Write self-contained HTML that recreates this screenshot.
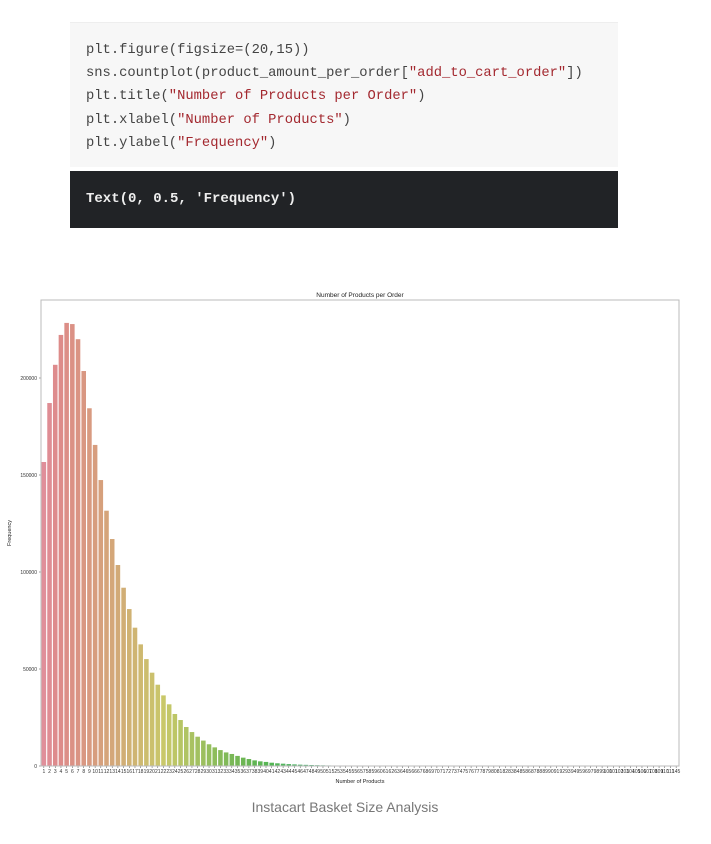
<!DOCTYPE html>
<html><head><meta charset="utf-8">
<style>
body{margin:0;background:#fff;width:711px;height:844px;position:relative;overflow:hidden;font-family:"Liberation Sans",sans-serif}
.code{position:absolute;left:70px;top:22px;width:548px;height:144px;background:#f7f7f7;border-top:1px solid #eee}
.code pre{margin:0;position:absolute;left:16px;top:16px;font:13.8px/23.2px "Liberation Mono",monospace;color:#444}
.s{color:#a3282f}
.out{position:absolute;left:70px;top:171px;width:548px;height:57px;background:#212326}
.out pre{margin:0;position:absolute;left:16px;top:20px;font:bold 14px "Liberation Mono",monospace;color:#eee}
.cap{position:absolute;left:0;width:690px;top:799px;text-align:center;font-size:14px;color:#777}
svg{position:absolute;left:0;top:0}
</style></head><body>
<div class="code"><pre>plt.figure(figsize=(20,15))
sns.countplot(product_amount_per_order[<span class="s">"add_to_cart_order"</span>])
plt.title(<span class="s">"Number of Products per Order"</span>)
plt.xlabel(<span class="s">"Number of Products"</span>)
plt.ylabel(<span class="s">"Frequency"</span>)</pre></div>
<div class="out"><pre>Text(0, 0.5, 'Frequency')</pre></div>
<svg id="chart" width="711" height="844"></svg>
<div class="cap">Instacart Basket Size Analysis</div>
<script>
const values=[156700,187100,206800,222200,228400,227800,220000,203600,184400,165500,147400,131600,117000,103600,91900,80900,71300,62700,55100,48100,41900,36400,31800,26800,23700,20100,17500,15100,13100,11200,9600,8200,7000,6200,5200,4300,3600,2900,2400,2100,1700,1400,1200,1000,850,700,600,500,420,350,290,250,210,180,150,130,110,95,80,70,60,52,45,40,35,30,26,23,20,18,16,14,12,11,10,9,8,7,6,6,5,5,4,4,3,3,3,2,2,2,2,2,1,1,1,1,1,1,1,1,1,1,1,1,1,1,1,1,1,1,1,1];
const categories=values.map((v,i)=>i<111?String(i+1):"145");
const yTicks=[0,50000,100000,150000,200000];
const NS="http://www.w3.org/2000/svg",svg=document.getElementById('chart');
const L=41,R=679,T=300,B=766;
const y=v=>B-v/50000*97;
const bw=(R-L)/categories.length;
const x=i=>L+i*bw;
function el(t,a,txt){const e=document.createElementNS(NS,t);for(const k in a)e.setAttribute(k,a[k]);if(txt!==undefined)e.textContent=txt;svg.appendChild(e);return e;}
const n=categories.length;
values.forEach((v,i)=>{
 const f=i/n;
 const h=(352+360*f)%360;
 const k=Math.min(1,i/35);
 const s=57-17*k, l=72-20*k;
 const r=el('rect',{x:x(i)+bw*0.1,y:y(v),width:bw*0.8,height:B-y(v),fill:`hsl(${h},${s}%,${l}%)`});
 
 
 const tk=el('line',{x1:x(i)+bw/2,x2:x(i)+bw/2,y1:B,y2:B+2,stroke:'#444','stroke-width':0.5});
 
 
 const t=el('text',{x:x(i)+bw/2,y:B+7,'font-size':5,'text-anchor':'middle',fill:'#333'},categories[i]);
 
 
});
yTicks.forEach(v=>{
 const tk=el('line',{x1:L-2,x2:L,y1:y(v),y2:y(v),stroke:'#444','stroke-width':0.5});
 
 
 const t=el('text',{x:L-4,y:y(v)+2,'font-size':5,'text-anchor':'end',fill:'#333'},String(v));
 
 
});
const fr=el('rect',{x:L,y:T,width:R-L,height:B-T,fill:'none',stroke:'#bbb','stroke-width':1});


const ti=el('text',{x:(L+R)/2,y:T-3,'font-size':6.5,'text-anchor':'middle',fill:'#222'},'Number of Products per Order');


const xl=el('text',{x:(L+R)/2,y:B+17,'font-size':5.5,'text-anchor':'middle',fill:'#222'},'Number of Products');


const yl=el('text',{x:0,y:0,'font-size':5.5,'text-anchor':'middle',fill:'#222',transform:`translate(11,${(T+B)/2}) rotate(-90)`},'Frequency');


</script>
</body></html>
